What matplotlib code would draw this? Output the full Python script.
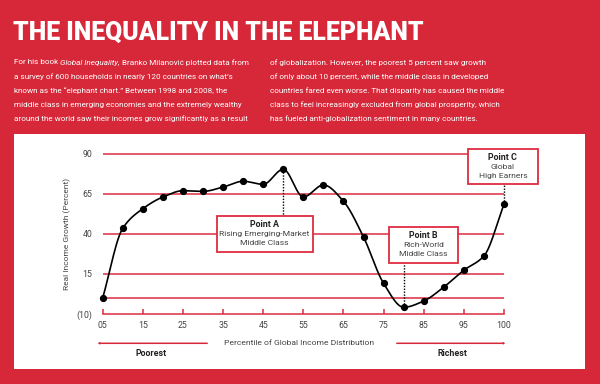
import numpy as np
import matplotlib
matplotlib.use("Agg")
import matplotlib.pyplot as plt
from matplotlib.patches import Rectangle, FancyArrowPatch

# ---------------- data ----------------
percentiles = [5, 10, 15, 20, 25, 30, 35, 40, 45, 50, 55, 60, 65, 70, 75, 80, 85, 90, 95, 99, 100]
growth = [0, 43.5, 55.7, 63, 66.9, 66.5, 69.2, 72.8, 70.9, 80.3, 63, 70.5, 60.3, 38,
          9.1, -5.8, -1.9, 6.8, 17.3, 26.2, 58.4]
xtick_labels = ["05", "15", "25", "35", "45", "55", "65", "75", "85", "95", "100"]
ytick_values = [90, 65, 40, 15, -10]
ytick_labels = ["90", "65", "40", "15", "(10)"]
grid_values = [90, 65, 40, 15, 0]

title = "THE INEQUALITY IN THE ELEPHANT"
col1 = [
    [("For his book", "normal"), ("Global Inequality,", "italic"), ("Branko Milanović plotted data from", "normal")],
    [("a survey of 600 households in nearly 120 countries on what’s", "normal")],
    [("known as the “elephant chart.” Between 1998 and 2008, the", "normal")],
    [("middle class in emerging economies and the extremely wealthy", "normal")],
    [("around the world saw their incomes grow significantly as a result", "normal")],
]
col2 = [
    "of globalization. However, the poorest 5 percent saw growth",
    "of only about 10 percent, while the middle class in developed",
    "countries fared even worse. That disparity has caused the middle",
    "class to feel increasingly excluded from global prosperity, which",
    "has fueled anti-globalization sentiment in many countries.",
]

RED = "#D62839"
GRID = "#DD2C40"
DARK = "#222222"
GRAY = "#444444"
FONT = "Roboto"

W, H = 600, 384
fig = plt.figure(figsize=(W / 100, H / 100), dpi=100)
fig.patch.set_facecolor(RED)


def fx(x):
    return x / W


def fy(y):
    return 1 - y / H


# white panel
fig.add_artist(Rectangle((fx(14), fy(369)), (585 - 14) / W, (369 - 134) / H,
                         transform=fig.transFigure, facecolor="white", edgecolor="none", zorder=0))

# title
fig.text(fx(13), fy(40), title, color="white", fontsize=17.8, fontweight="black",
         family=FONT, va="baseline", ha="left")

# body text
renderer = fig.canvas.get_renderer()
body_size = 5.85


def text_width(s, style):
    t = fig.text(0, 0, s, fontsize=body_size, family=FONT, style=style)
    w = t.get_window_extent(renderer=renderer).width
    t.remove()
    return w


space_w = text_width("a a", "normal") - text_width("aa", "normal")
for i, pieces in enumerate(col1):
    x = 14
    y = 64.5 + 14 * i
    for txt, style in pieces:
        fig.text(fx(x), fy(y), txt, color="white", fontsize=body_size, family=FONT,
                 style=style, va="baseline", ha="left")
        x += text_width(txt, style) + space_w
for i, txt in enumerate(col2):
    fig.text(fx(270), fy(64.5 + 14 * i), txt, color="white", fontsize=body_size, family=FONT,
             va="baseline", ha="left")

# ---------------- chart axes ----------------
x0, x1 = 102.7, 504
y0, y1 = 153.7, 314
ax = fig.add_axes([fx(x0), fy(y1), (x1 - x0) / W, (y1 - y0) / H])
ax.set_facecolor("none")
ax.set_xlim(0, 20)
ax.set_ylim(-10, 90)

pos = np.arange(len(percentiles), dtype=float)

for g in grid_values:
    ax.hlines(g, 0, 20, color=GRID, lw=1.1, zorder=1, clip_on=False)

for s in ["left", "top", "right"]:
    ax.spines[s].set_visible(False)
ax.spines["bottom"].set_color(GRID)
ax.spines["bottom"].set_linewidth(1.1)
ax.set_xticks(pos[::2])
ax.set_xticklabels(xtick_labels, fontsize=6.3, family=FONT, color=GRAY)
ax.tick_params(axis="x", direction="in", length=3.5, width=1.1, color=GRID, pad=5)
ax.set_yticks(ytick_values)
ax.set_yticklabels(ytick_labels, fontsize=6.3, family=FONT, color=GRAY)
ax.tick_params(axis="y", length=0, pad=7.5)

ax.set_ylabel("Real Income Growth (Percent)", fontsize=6.0, family=FONT, color=GRAY, labelpad=4)


# smooth curve (monotone cubic through data points)
def monotone_cubic(xs, ys, n=24):
    xs = np.asarray(xs, float)
    ys = np.asarray(ys, float)
    h = np.diff(xs)
    d = np.diff(ys) / h
    m = np.zeros_like(ys)
    m[0], m[-1] = d[0], d[-1]
    for k in range(1, len(ys) - 1):
        if d[k - 1] * d[k] <= 0:
            m[k] = 0.0
        else:
            w1 = 2 * h[k] + h[k - 1]
            w2 = h[k] + 2 * h[k - 1]
            m[k] = (w1 + w2) / (w1 / d[k - 1] + w2 / d[k])
    X, Y = [], []
    t = np.linspace(0, 1, n, endpoint=False)
    for k in range(len(xs) - 1):
        h00 = 2 * t ** 3 - 3 * t ** 2 + 1
        h10 = t ** 3 - 2 * t ** 2 + t
        h01 = -2 * t ** 3 + 3 * t ** 2
        h11 = t ** 3 - t ** 2
        X.append(xs[k] + t * h[k])
        Y.append(h00 * ys[k] + h10 * h[k] * m[k] + h01 * ys[k + 1] + h11 * h[k] * m[k + 1])
    X.append([xs[-1]])
    Y.append([ys[-1]])
    return np.concatenate(X), np.concatenate(Y)


cx_, cy_ = monotone_cubic(pos, growth)
ax.plot(cx_, cy_, color="black", lw=1.2, zorder=4, clip_on=False)
ax.plot(pos, growth, "o", color="black", ms=4.2, zorder=5, clip_on=False)

# annotation boxes
boxes = [
    (5.68, 10.46, 28.9, 51.1, 9, "Point A", ["Rising Emerging-Market", "Middle Class"], "top"),
    (14.27, 17.69, 22.0, 44.1, 15, "Point B", ["Rich-World", "Middle Class"], "bottom"),
    (18.22, 21.67, 71.1, 92.9, 20, "Point C", ["Global", "High Earners"], "bottom"),
]
for xl, xr, yb, yt, idx, head, lines, side in boxes:
    ax.add_patch(Rectangle((xl, yb), xr - xl, yt - yb, facecolor="white", edgecolor=GRID,
                           lw=1.3, zorder=3, clip_on=False))
    bx = (xl + xr) / 2
    by = (yb + yt) / 2
    step = 5.8
    ax.text(bx, by + step, head, ha="center", va="center", fontsize=6.4, fontweight="bold",
            family=FONT, color=DARK, zorder=6, clip_on=False)
    for j, ln in enumerate(lines):
        ax.text(bx, by - step * j, ln, ha="center", va="center", fontsize=6.1,
                family=FONT, color=GRAY, zorder=6, clip_on=False)
    edge = yt if side == "top" else yb
    ax.plot([pos[idx], pos[idx]], [growth[idx], edge], color="black", lw=1.0,
            ls=(0, (1, 1.1)), zorder=2, clip_on=False)

# x axis title and arrows
fig.text(fx(298.6), fy(343.3), "Percentile of Global Income Distribution", ha="center",
         va="center", fontsize=6.1, family=FONT, color=GRAY)
arrow_kw = dict(arrowstyle="->,head_length=0.45,head_width=0.3", color=RED, lw=1.1)
fig.add_artist(FancyArrowPatch((fx(210), fy(343.3)), (fx(95), fy(343.3)),
                               transform=fig.transFigure, **arrow_kw))
fig.add_artist(FancyArrowPatch((fx(394), fy(343.3)), (fx(508), fy(343.3)),
                               transform=fig.transFigure, **arrow_kw))
fig.text(fx(151), fy(353.7), "Poorest", ha="center", va="center", fontsize=6.4,
         fontweight="bold", family=FONT, color=DARK)
fig.text(fx(452), fy(353.7), "Richest", ha="center", va="center", fontsize=6.4,
         fontweight="bold", family=FONT, color=DARK)

fig.savefig("out.png", dpi=100, facecolor=fig.get_facecolor())
